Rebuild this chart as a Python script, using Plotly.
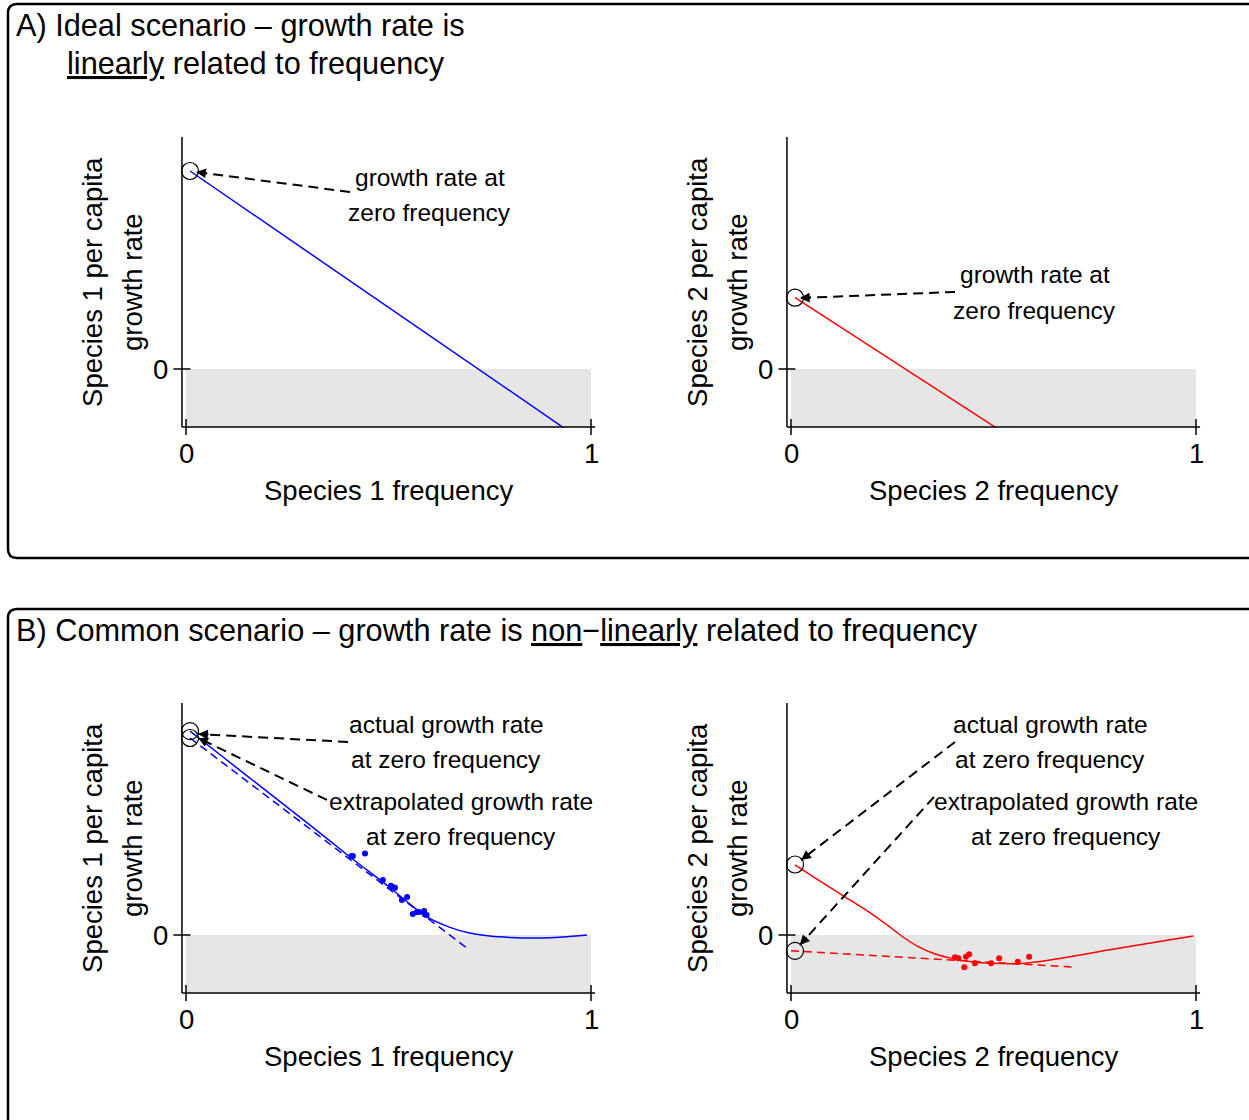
import plotly.graph_objects as go

W, H = 1249, 1120
FONT = "Liberation Sans, Arial, Helvetica, sans-serif"

# ---------------- data ----------------
x_ticks = [0, 1]
x_tick_text = ["0", "1"]
y_ticks = [0]
y_tick_text = ["0"]

# Panel A, species 1 (linear)
a1_line_x = [0.01, 0.93]
a1_line_y = [1.0, -0.293]
a1_zero_x = [0.01]
a1_zero_y = [1.0]

# Panel A, species 2 (linear)
a2_line_x = [0.01, 0.504]
a2_line_y = [0.36, -0.293]
a2_zero_x = [0.01]
a2_zero_y = [0.36]

# Panel B, species 1 (non-linear)
b1_curve_x = [0.01, 0.10, 0.20, 0.30, 0.405, 0.50, 0.595, 0.65, 0.70, 0.75, 0.80, 0.87, 0.93, 0.99]
b1_curve_y = [1.03, 0.885, 0.725, 0.565, 0.394, 0.245, 0.091, 0.040, 0.010, -0.005, -0.012, -0.015, -0.010, 0.0]
b1_fit_x = [0.01, 0.70]
b1_fit_y = [0.995, -0.076]
b1_obs_x = [0.409, 0.412, 0.442, 0.486, 0.506, 0.510, 0.516, 0.533, 0.546, 0.560, 0.570, 0.575, 0.588, 0.590, 0.594]
b1_obs_y = [0.399, 0.399, 0.411, 0.278, 0.249, 0.242, 0.239, 0.177, 0.192, 0.106, 0.116, 0.116, 0.121, 0.103, 0.101]
b1_zero_x = [0.01, 0.01]
b1_zero_y = [1.03, 0.995]

# Panel B, species 2 (non-linear)
b2_curve_x = [0.01, 0.067, 0.133, 0.191, 0.232, 0.273, 0.314, 0.356, 0.397, 0.446, 0.496, 0.578, 0.659, 0.783, 0.993]
b2_curve_y = [0.354, 0.278, 0.193, 0.118, 0.059, -0.005, -0.059, -0.096, -0.118, -0.135, -0.143, -0.143, -0.120, -0.076, -0.005]
b2_fit_x = [0.0, 0.705]
b2_fit_y = [-0.08, -0.163]
b2_obs_x = [0.405, 0.413, 0.428, 0.432, 0.440, 0.454, 0.494, 0.514, 0.560, 0.588]
b2_obs_y = [-0.113, -0.118, -0.163, -0.110, -0.097, -0.143, -0.143, -0.118, -0.135, -0.110]
b2_zero_x = [0.01, 0.01]
b2_zero_y = [0.356, -0.08]

# annotation labels: (text, x, y)
a1_labels = [("growth rate at", 0.602, 0.965), ("zero frequency", 0.602, 0.788)]
a2_labels = [("growth rate at", 0.602, 0.475), ("zero frequency", 0.602, 0.298)]
b1_labels = [("actual growth rate", 0.642, 1.061), ("at zero frequency", 0.642, 0.884),
             ("extrapolated growth rate", 0.679, 0.672), ("at zero frequency", 0.679, 0.495)]
b2_labels = [("actual growth rate", 0.640, 1.061), ("at zero frequency", 0.640, 0.884),
             ("extrapolated growth rate", 0.679, 0.672), ("at zero frequency", 0.679, 0.495)]

# arrows: (start x, start y, tip x, tip y)
a1_arrows = [(0.405, 0.894, 0.025, 0.995)]
a2_arrows = [(0.405, 0.389, 0.022, 0.359)]
b1_arrows = [(0.40, 0.975, 0.03, 1.015), (0.348, 0.682, 0.03, 0.995)]
b2_arrows = [(0.405, 0.975, 0.025, 0.379), (0.353, 0.697, 0.022, -0.05)]

x_titles = ["Species 1 frequency", "Species 2 frequency", "Species 1 frequency", "Species 2 frequency"]
y_titles = [("Species 1 per capita", "growth rate"), ("Species 2 per capita", "growth rate"),
            ("Species 1 per capita", "growth rate"), ("Species 2 per capita", "growth rate")]

# ---------------- layout geometry ----------------
XSCALE = 405.0   # px per x unit
YSCALE = 198.0   # px per y unit
XR = [-0.05, 1.05]
YR = [-0.35, 1.2]
Y_BOTTOM = -0.293
Y_TOP = 1.172
X_LEFT = -0.01
X_RIGHT = 1.01

panel_origin = [(186, 369), (791, 369), (186, 935), (791, 935)]  # pixel of data (0,0)

BLUE = "#0000FF"
RED = "#FF0000"
GRAY = "#E6E6E6"
AX_SIZE = 27.5
LAB_SIZE = 24.5
TITLE_SIZE = 30.7

fig = go.Figure()
layout_axes = {}
shapes = []
annotations = []

for i, (ox, oy) in enumerate(panel_origin):
    n = "" if i == 0 else str(i + 1)
    xd = [(ox + XR[0] * XSCALE) / W, (ox + XR[1] * XSCALE) / W]
    yd = [1 - (oy - YR[0] * YSCALE) / H, 1 - (oy - YR[1] * YSCALE) / H]
    layout_axes["xaxis" + n] = dict(domain=xd, range=XR, visible=False, anchor="y" + n, fixedrange=True)
    layout_axes["yaxis" + n] = dict(domain=yd, range=YR, visible=False, anchor="x" + n, fixedrange=True)

panels = [
    dict(color=BLUE, lines=[(a1_line_x, a1_line_y, "solid")], obs=None, zero=(a1_zero_x, a1_zero_y),
         labels=a1_labels, arrows=a1_arrows),
    dict(color=RED, lines=[(a2_line_x, a2_line_y, "solid")], obs=None, zero=(a2_zero_x, a2_zero_y),
         labels=a2_labels, arrows=a2_arrows),
    dict(color=BLUE, lines=[(b1_curve_x, b1_curve_y, "spline"), (b1_fit_x, b1_fit_y, "dash")],
         obs=(b1_obs_x, b1_obs_y), zero=(b1_zero_x, b1_zero_y), labels=b1_labels, arrows=b1_arrows),
    dict(color=RED, lines=[(b2_curve_x, b2_curve_y, "spline"), (b2_fit_x, b2_fit_y, "dash")],
         obs=(b2_obs_x, b2_obs_y), zero=(b2_zero_x, b2_zero_y), labels=b2_labels, arrows=b2_arrows),
]

for i, p in enumerate(panels):
    n = "" if i == 0 else str(i + 1)
    xa, ya = "x" + n, "y" + n
    # gray negative region
    shapes.append(dict(type="rect", xref=xa, yref=ya, x0=x_ticks[0], x1=x_ticks[-1], y0=Y_BOTTOM, y1=y_ticks[0],
                       fillcolor=GRAY, line=dict(width=0), layer="below"))
    # axis lines
    shapes.append(dict(type="line", xref=xa, yref=ya, x0=X_LEFT, x1=X_LEFT, y0=Y_BOTTOM, y1=Y_TOP,
                       line=dict(color="black", width=1.5)))
    shapes.append(dict(type="line", xref=xa, yref=ya, x0=X_LEFT, x1=X_RIGHT, y0=Y_BOTTOM, y1=Y_BOTTOM,
                       line=dict(color="black", width=1.5)))
    # ticks crossing axis
    for tv, tt in zip(x_ticks, x_tick_text):
        shapes.append(dict(type="line", xref=xa, yref=ya, x0=tv, x1=tv,
                           y0=Y_BOTTOM - 8 / YSCALE, y1=Y_BOTTOM + 8 / YSCALE,
                           line=dict(color="black", width=1.5)))
        annotations.append(dict(xref=xa, yref=ya, x=tv, y=Y_BOTTOM, yshift=-26, text=tt, showarrow=False,
                                xanchor="center", yanchor="middle",
                                font=dict(size=AX_SIZE, color="black", family=FONT)))
    for tv, tt in zip(y_ticks, y_tick_text):
        shapes.append(dict(type="line", xref=xa, yref=ya, x0=X_LEFT - 8.5 / XSCALE, x1=X_LEFT + 8.5 / XSCALE,
                           y0=tv, y1=tv, line=dict(color="black", width=1.5)))
        annotations.append(dict(xref=xa, yref=ya, x=X_LEFT, y=tv, xshift=-12, text=tt, showarrow=False,
                                xanchor="right", yanchor="middle",
                                font=dict(size=AX_SIZE, color="black", family=FONT)))
    # axis titles
    annotations.append(dict(xref=xa, yref=ya, x=0.5, y=Y_BOTTOM, yshift=-63, text=x_titles[i], showarrow=False,
                            xanchor="center", yanchor="middle",
                            font=dict(size=AX_SIZE, color="black", family=FONT)))
    ymid = (Y_BOTTOM + Y_TOP) / 2
    for t, shift in zip(y_titles[i], [-89, -49]):
        annotations.append(dict(xref=xa, yref=ya, x=X_LEFT, y=ymid, xshift=shift, text=t, showarrow=False,
                                textangle=-90, xanchor="center", yanchor="middle",
                                font=dict(size=AX_SIZE, color="black", family=FONT)))
    # lines
    for lx, ly, style in p["lines"]:
        if style == "spline":
            line = dict(color=p["color"], width=1.5, shape="spline", smoothing=0.8)
        elif style == "dash":
            line = dict(color=p["color"], width=1.5, dash="8px,5px")
        else:
            line = dict(color=p["color"], width=1.5)
        fig.add_trace(go.Scatter(x=lx, y=ly, mode="lines", line=line, xaxis=xa, yaxis=ya,
                                 showlegend=False, hoverinfo="skip", cliponaxis=False))
    # observations
    if p["obs"] is not None:
        fig.add_trace(go.Scatter(x=p["obs"][0], y=p["obs"][1], mode="markers", xaxis=xa, yaxis=ya,
                                 marker=dict(color=p["color"], size=6, line=dict(width=0)),
                                 showlegend=False, hoverinfo="skip"))
    # zero-frequency circles
    fig.add_trace(go.Scatter(x=p["zero"][0], y=p["zero"][1], mode="markers", xaxis=xa, yaxis=ya,
                             marker=dict(symbol="circle-open", size=17, color="black", line=dict(width=1.2)),
                             showlegend=False, hoverinfo="skip"))
    # text labels
    for t, tx, ty in p["labels"]:
        annotations.append(dict(xref=xa, yref=ya, x=tx, y=ty, text=t, showarrow=False,
                                xanchor="center", yanchor="middle",
                                font=dict(size=LAB_SIZE, color="black", family=FONT)))
    # dashed arrows
    for sx, sy, ex, ey in p["arrows"]:
        fig.add_trace(go.Scatter(x=[sx, ex], y=[sy, ey], mode="lines", xaxis=xa, yaxis=ya,
                                 line=dict(color="black", width=2, dash="10px,6px"),
                                 showlegend=False, hoverinfo="skip"))
        dxp = (ex - sx) * XSCALE
        dyp = (ey - sy) * YSCALE
        L = (dxp ** 2 + dyp ** 2) ** 0.5
        annotations.append(dict(xref=xa, yref=ya, x=ex, y=ey, text="", showarrow=True,
                                ax=-dxp / L * 12, ay=dyp / L * 12, axref="pixel", ayref="pixel",
                                arrowhead=2, arrowsize=1.3, arrowwidth=1.5, arrowcolor="black", standoff=0))

# panel titles
annotations.append(dict(xref="paper", yref="paper", x=14 / W, y=1 - 25 / H,
                        text="A) Ideal scenario \u2013 growth rate is",
                        showarrow=False, xanchor="left", yanchor="middle",
                        font=dict(size=TITLE_SIZE, color="black", family=FONT)))
annotations.append(dict(xref="paper", yref="paper", x=65 / W, y=1 - 63 / H,
                        text="<u>linearly</u> related to frequency",
                        showarrow=False, xanchor="left", yanchor="middle",
                        font=dict(size=TITLE_SIZE, color="black", family=FONT)))
annotations.append(dict(xref="paper", yref="paper", x=14 / W, y=1 - 630 / H,
                        text="B) Common scenario \u2013 growth rate is <u>non</u>\u2212<u>linearly</u> related to frequency",
                        showarrow=False, xanchor="left", yanchor="middle",
                        font=dict(size=TITLE_SIZE, color="black", family=FONT)))


def rounded_box(x0, y0, x1, y1, r):
    def P(x, y):
        return f"{x / W:.5f},{1 - y / H:.5f}"
    return (f"M {P(x0 + r, y0)} L {P(x1 - r, y0)} Q {P(x1, y0)} {P(x1, y0 + r)} "
            f"L {P(x1, y1 - r)} Q {P(x1, y1)} {P(x1 - r, y1)} L {P(x0 + r, y1)} "
            f"Q {P(x0, y1)} {P(x0, y1 - r)} L {P(x0, y0 + r)} Q {P(x0, y0)} {P(x0 + r, y0)} Z")


shapes.append(dict(type="path", xref="paper", yref="paper", path=rounded_box(8, 4, 1262, 558, 9),
                   line=dict(color="black", width=2.5)))
shapes.append(dict(type="path", xref="paper", yref="paper", path=rounded_box(8, 609, 1262, 1135, 9),
                   line=dict(color="black", width=2.5)))

fig.update_layout(
    width=W, height=H, autosize=False,
    margin=dict(l=0, r=0, t=0, b=0),
    paper_bgcolor="white", plot_bgcolor="rgba(0,0,0,0)",
    shapes=shapes, annotations=annotations,
    font=dict(family=FONT, color="black"),
    **layout_axes,
)

fig.write_html("out.html", config={"displayModeBar": False})
